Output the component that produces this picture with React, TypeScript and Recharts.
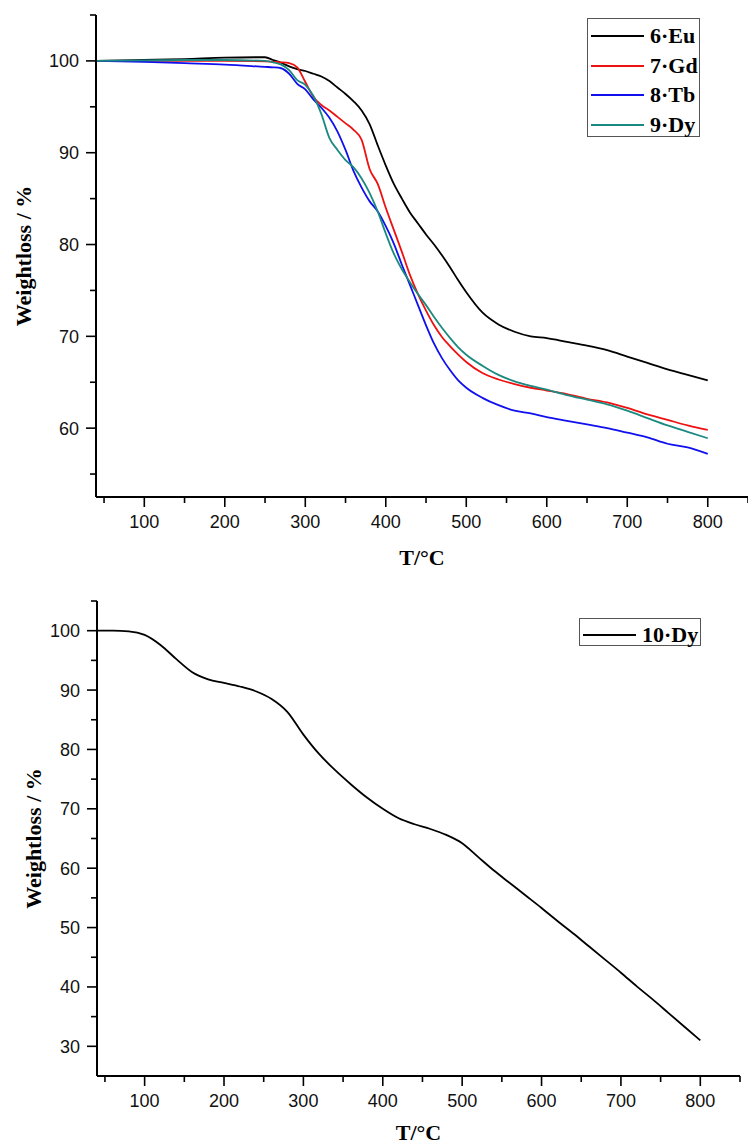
import React from 'react';
import { LineChart, Line, XAxis, YAxis, Legend, Label } from 'recharts';

// ---------- Top chart data (compounds 6-9) ----------
const temps1 = [40, 100, 150, 200, 250, 260, 270, 280, 290, 300, 310, 320, 330, 340, 350, 360, 370, 380, 390, 400, 410, 420, 430, 440, 450, 460, 470, 480, 490, 500, 520, 540, 560, 580, 600, 625, 650, 675, 700, 725, 750, 775, 800];
const eu6 = [100, 100.1, 100.2, 100.35, 100.4, 100.1, 99.8, 99.4, 99.1, 98.9, 98.6, 98.3, 97.8, 97.1, 96.4, 95.6, 94.6, 93.1, 90.8, 88.6, 86.6, 85.0, 83.5, 82.3, 81.1, 80.0, 78.8, 77.5, 76.1, 74.8, 72.6, 71.3, 70.5, 70.0, 69.8, 69.4, 69.0, 68.5, 67.8, 67.1, 66.4, 65.8, 65.2];
const gd7 = [100, 100, 100, 100, 99.95, 99.9, 99.85, 99.75, 99.3, 97.7, 96.1, 95.2, 94.6, 93.9, 93.2, 92.5, 91.4, 88.2, 86.6, 84.0, 81.6, 79.2, 76.7, 74.6, 72.8, 71.2, 69.9, 68.9, 68.0, 67.2, 66.0, 65.3, 64.8, 64.4, 64.1, 63.7, 63.2, 62.8, 62.2, 61.5, 60.9, 60.3, 59.8];
const tb8 = [100, 99.9, 99.75, 99.6, 99.35, 99.3, 99.2, 98.6, 97.5, 96.9, 95.8, 94.9, 93.8, 92.3, 90.3, 88.0, 86.2, 84.7, 83.6, 82.0, 80.1, 77.8, 75.6, 73.4, 71.2, 69.2, 67.6, 66.3, 65.2, 64.4, 63.3, 62.5, 61.9, 61.6, 61.2, 60.8, 60.4, 60.0, 59.5, 59.0, 58.3, 57.9, 57.2];
const dy9 = [100, 100.05, 100.1, 100.1, 100.0, 99.85, 99.6, 99.0, 97.9, 97.4, 96.2, 94.2, 91.6, 90.3, 89.2, 88.4, 87.2, 85.6, 83.6, 81.2, 79.0, 77.3, 75.9, 74.6, 73.4, 72.1, 70.9, 69.8, 68.8, 68.0, 66.8, 65.8, 65.1, 64.6, 64.2, 63.6, 63.1, 62.6, 61.9, 61.1, 60.3, 59.6, 58.9];

// ---------- Bottom chart data (compound 10) ----------
const temps2 = [40, 60, 80, 100, 120, 140, 160, 180, 200, 220, 240, 260, 280, 300, 320, 340, 360, 380, 400, 420, 440, 460, 480, 500, 520, 540, 560, 580, 600, 620, 640, 660, 680, 700, 720, 740, 760, 780, 800];
const dy10 = [100, 100, 99.9, 99.3, 97.6, 95.2, 93.0, 91.8, 91.2, 90.6, 89.8, 88.5, 86.3, 82.5, 79.2, 76.5, 74.1, 71.9, 70.0, 68.4, 67.4, 66.6, 65.6, 64.2, 61.9, 59.6, 57.5, 55.4, 53.3, 51.1, 49.0, 46.8, 44.6, 42.4, 40.1, 37.9, 35.6, 33.3, 31.0];

// ---------- Ticks / labels ----------
const xTicks = [50, 100, 150, 200, 250, 300, 350, 400, 450, 500, 550, 600, 650, 700, 750, 800, 850];
const yTicks1 = [55, 60, 65, 70, 75, 80, 85, 90, 95, 100, 105];
const yTicks2 = [30, 35, 40, 45, 50, 55, 60, 65, 70, 75, 80, 85, 90, 95, 100, 105];
const xTitle = 'T/°C';
const yTitle = 'Weightloss / %';

const series1 = [
  { key: 'eu', name: '6·Eu', color: '#000000', values: eu6 },
  { key: 'gd', name: '7·Gd', color: '#ee1111', values: gd7 },
  { key: 'tb', name: '8·Tb', color: '#1010ee', values: tb8 },
  { key: 'dy', name: '9·Dy', color: '#1a8a80', values: dy9 },
];
const series2 = [{ key: 'dy10', name: '10·Dy', color: '#000000', values: dy10 }];

const data1 = temps1.map((t, i) => {
  const row: any = { t };
  series1.forEach((s) => (row[s.key] = s.values[i]));
  return row;
});
const data2 = temps2.map((t, i) => ({ t, dy10: dy10[i] }));

const SANS = '"Liberation Sans", Arial, sans-serif';
const SERIF = '"Liberation Serif", "Times New Roman", serif';

const YTick = (props: any) => {
  const { x, y, payload } = props;
  const major = payload.value % 10 === 0;
  return (
    <g>
      <line x1={x - (major ? 10 : 6)} x2={x} y1={y} y2={y} stroke="#000" strokeWidth={1.6} />
      {major && (
        <text x={x - 17} y={y} dy="0.36em" textAnchor="end" fontSize={18} fontFamily={SANS} fill="#111">
          {payload.value}
        </text>
      )}
    </g>
  );
};

const XTick = (props: any) => {
  const { x, y, payload } = props;
  const major = payload.value % 100 === 0;
  return (
    <g>
      <line x1={x} x2={x} y1={y} y2={y + (major ? 10 : 6)} stroke="#000" strokeWidth={1.6} />
      {major && (
        <text x={x} y={y + 31} textAnchor="middle" fontSize={18} fontFamily={SANS} fill="#111">
          {payload.value}
        </text>
      )}
    </g>
  );
};

const makeYTitle = (dx: number) => (props: any) => {
  const vb = props.viewBox || {};
  const cx = vb.x + dx;
  const cy = vb.y + vb.height / 2;
  return (
    <text
      x={cx}
      y={cy}
      transform={`rotate(-90 ${cx} ${cy})`}
      textAnchor="middle"
      dominantBaseline="central"
      fontSize={22}
      fontWeight="bold"
      fontFamily={SERIF}
      fill="#000"
    >
      {yTitle}
    </text>
  );
};

const makeXTitle = (dy: number) => (props: any) => {
  const vb = props.viewBox || {};
  return (
    <text x={vb.x + vb.width / 2} y={vb.y + dy} textAnchor="middle" fontSize={22} fontWeight="bold" fontFamily={SERIF} fill="#000">
      {xTitle}
    </text>
  );
};

const makeLegend = (items: { name: string; color: string }[], width: number, rowStep: number, firstRow: number) => () => (
  <div
    style={{
      position: 'relative',
      width,
      height: firstRow * 2 + rowStep * (items.length - 1) - 4,
      border: '1.5px solid #555',
      boxSizing: 'border-box',
      background: '#fff',
    }}
  >
    {items.map((it, i) => (
      <div key={it.name} style={{ position: 'absolute', left: 0, top: firstRow + i * rowStep - 13, height: 26, width: '100%' }}>
        <div style={{ position: 'absolute', left: 3, top: 12, width: 53, height: 2, background: it.color }} />
        <span
          style={{
            position: 'absolute',
            left: 62,
            top: 0,
            lineHeight: '26px',
            fontSize: 22,
            fontWeight: 'bold',
            fontFamily: SERIF,
            color: '#000',
            whiteSpace: 'nowrap',
          }}
        >
          {it.name}
        </span>
      </div>
    ))}
  </div>
);

export default function App() {
  return (
    <div style={{ position: 'absolute', left: 0, top: 0, width: 748, height: 1146, background: '#fff' }}>
      <div style={{ position: 'absolute', left: 0, top: 0 }}>
        <LineChart width={748} height={580} data={data1} margin={{ top: 15, right: 0, bottom: 0, left: 0 }}>
          <XAxis
            dataKey="t"
            type="number"
            domain={[40, 850]}
            ticks={xTicks}
            interval={0}
            height={83}
            tickSize={0}
            tickMargin={0}
            tick={<XTick />}
            axisLine={{ stroke: '#000', strokeWidth: 2 }}
            tickLine={false}
            allowDataOverflow
          >
            <Label content={makeXTitle(68)} />
          </XAxis>
          <YAxis
            type="number"
            domain={[52.5, 105]}
            ticks={yTicks1}
            interval={0}
            width={96}
            tickSize={0}
            tickMargin={0}
            tick={<YTick />}
            axisLine={{ stroke: '#000', strokeWidth: 2 }}
            tickLine={false}
            allowDataOverflow
          >
            <Label content={makeYTitle(23)} />
          </YAxis>
          {series1.map((s) => (
            <Line key={s.key} type="monotone" dataKey={s.key} name={s.name} stroke={s.color} strokeWidth={1.8} dot={false} isAnimationActive={false} />
          ))}
          <Legend
            layout="vertical"
            align="center"
            verticalAlign="middle"
            wrapperStyle={{ position: 'absolute', left: 587, top: 18, width: 113 }}
            content={makeLegend(series1, 113, 29.7, 17)}
          />
        </LineChart>
      </div>
      <div style={{ position: 'absolute', left: 0, top: 580 }}>
        <LineChart width={748} height={566} data={data2} margin={{ top: 21, right: 8, bottom: 0, left: 0 }}>
          <XAxis
            dataKey="t"
            type="number"
            domain={[40, 850]}
            ticks={xTicks}
            interval={0}
            height={70}
            tickSize={0}
            tickMargin={0}
            tick={<XTick />}
            axisLine={{ stroke: '#000', strokeWidth: 2 }}
            tickLine={false}
            allowDataOverflow
          >
            <Label content={makeXTitle(64)} />
          </XAxis>
          <YAxis
            type="number"
            domain={[25, 105]}
            ticks={yTicks2}
            interval={0}
            width={97}
            tickSize={0}
            tickMargin={0}
            tick={<YTick />}
            axisLine={{ stroke: '#000', strokeWidth: 2 }}
            tickLine={false}
            allowDataOverflow
          >
            <Label content={makeYTitle(33)} />
          </YAxis>
          {series2.map((s) => (
            <Line key={s.key} type="monotone" dataKey={s.key} name={s.name} stroke={s.color} strokeWidth={1.8} dot={false} isAnimationActive={false} />
          ))}
          <Legend
            layout="vertical"
            align="center"
            verticalAlign="middle"
            wrapperStyle={{ position: 'absolute', left: 579, top: 38, width: 122 }}
            content={makeLegend(series2, 122, 0, 16)}
          />
        </LineChart>
      </div>
    </div>
  );
}
